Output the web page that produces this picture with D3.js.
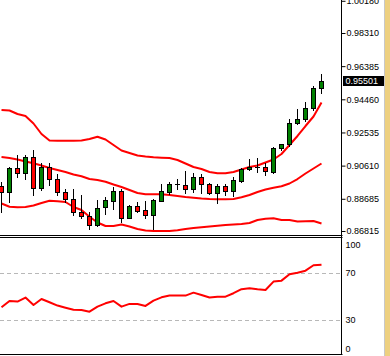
<!DOCTYPE html>
<html><head><meta charset="utf-8">
<script src="https://cdn.jsdelivr.net/npm/d3@7"></script>
<style>html,body{margin:0;padding:0;background:#fff;overflow:hidden}svg{display:block}</style>
</head><body>
<svg id="c" width="390" height="356"></svg>
<script>
const openP=[0.89444,0.89061,0.90455,0.90164,0.91093,0.89293,0.90547,0.89816,0.89061,0.88655,0.87917,0.87702,0.87162,0.88190,0.88573,0.89137,0.87586,0.88266,0.88033,0.87726,0.88573,0.89096,0.89526,0.89485,0.89235,0.89932,0.89543,0.89038,0.89410,0.89154,0.89735,0.90396,0.90547,0.90530,0.90257,0.91616,0.91848,0.93067,0.93299,0.93938,0.95099];
const highP=[0.89677,0.90530,0.91227,0.91227,0.91517,0.90779,0.90762,0.90124,0.89235,0.89235,0.88904,0.87935,0.88614,0.88806,0.89386,0.89235,0.88324,0.88515,0.88556,0.88672,0.89543,0.89642,0.89833,0.90298,0.90164,0.90106,0.89618,0.89526,0.89526,0.89967,0.90472,0.90994,0.91053,0.90745,0.91709,0.91865,0.93299,0.93897,0.94286,0.95233,0.95930];
const lowP=[0.87935,0.88515,0.89967,0.89816,0.88904,0.89195,0.89485,0.88904,0.88515,0.87743,0.87569,0.86913,0.87133,0.87784,0.88074,0.87354,0.87540,0.87935,0.87586,0.86930,0.88556,0.88945,0.89235,0.89003,0.89096,0.89038,0.88945,0.88457,0.88904,0.88846,0.89642,0.90356,0.90257,0.90065,0.90164,0.91517,0.91749,0.93027,0.93218,0.93839,0.94809];
const closeP=[0.89061,0.90455,0.90164,0.91093,0.89293,0.90547,0.89816,0.89061,0.88655,0.87900,0.87685,0.87162,0.88132,0.88614,0.89137,0.87586,0.88266,0.87993,0.87726,0.88614,0.89119,0.89543,0.89526,0.89235,0.89932,0.89526,0.89038,0.89427,0.89154,0.89775,0.90414,0.90547,0.90547,0.90298,0.91616,0.91848,0.93067,0.93299,0.93938,0.95099,0.95501];
const upperBand=[0.93839,0.93810,0.93607,0.93491,0.93056,0.92446,0.92069,0.92057,0.92057,0.92057,0.92069,0.92156,0.92289,0.92127,0.91807,0.91488,0.91343,0.91198,0.91140,0.91093,0.91070,0.91053,0.90936,0.90733,0.90530,0.90414,0.90240,0.90164,0.90164,0.90240,0.90385,0.90530,0.90617,0.90791,0.90965,0.91285,0.91807,0.92330,0.92910,0.93462,0.94275];
const middleBand=[0.91111,0.91053,0.90965,0.90849,0.90745,0.90617,0.90472,0.90356,0.90240,0.90095,0.89990,0.89833,0.89775,0.89677,0.89514,0.89369,0.89195,0.89020,0.88945,0.88945,0.88945,0.88904,0.88846,0.88788,0.88748,0.88701,0.88672,0.88655,0.88655,0.88672,0.88771,0.88904,0.89079,0.89224,0.89328,0.89409,0.89572,0.89833,0.90153,0.90443,0.90733];
const lowerBand=[0.88411,0.88225,0.88190,0.88208,0.88295,0.88440,0.88573,0.88539,0.88498,0.88208,0.88033,0.87644,0.87308,0.87104,0.87104,0.87192,0.87075,0.86930,0.86843,0.86814,0.86814,0.86814,0.86855,0.86930,0.86988,0.87029,0.87075,0.87122,0.87163,0.87192,0.87221,0.87279,0.87453,0.87528,0.87552,0.87453,0.87453,0.87366,0.87377,0.87395,0.87250];
const rsiValues=[41.0,46.4,45.9,49.3,43.0,48.1,45.3,42.5,40.7,39.0,38.8,37.3,41.6,44.4,46.4,41.6,43.9,43.9,42.2,46.7,49.5,51.0,51.0,51.0,53.5,51.5,49.3,50.1,50.1,53.0,56.4,57.2,56.4,55.8,62.9,63.7,69.1,70.5,72.2,76.8,77.3];
const priceTicks=["1.00180","0.98310","0.96385","0.94460","0.92535","0.90610","0.88685","0.86815"];
const rsiTicks=[100,70,30,0];
const rsiLevels=[70,30];
const lastPrice="0.95501";

const axisX=341.5, mainBottom=235, font='9px "Liberation Sans", Arial, sans-serif';
const svg=d3.select("#c");
const n=openP.length;
const x=d3.scalePoint().domain(d3.range(n)).range([1.5,321.5]);
const y=d3.scaleLinear().domain([0.86582,1.00226]).range([mainBottom,0]);
const yr=d3.scaleLinear().domain([0,100]).range([355.5,238]);

svg.append("defs").append("clipPath").attr("id","mainClip").append("rect").attr("x",0).attr("y",0).attr("width",axisX).attr("height",mainBottom);
const main=svg.append("g").attr("clip-path","url(#mainClip)");

// bands
const line=d3.line().x((d,i)=>x(i)).y(d=>y(d));
[upperBand,middleBand,lowerBand].forEach(b=>{
  main.append("path").attr("d",line(b)).attr("fill","none").attr("stroke","#ff0000").attr("stroke-width",2).attr("stroke-linejoin","round");
});

// candles
const idx=d3.range(n);
const snap=v=>Math.round(v)+0.5;
main.selectAll(".wick").data(idx).join("line").attr("class","wick")
  .attr("x1",i=>x(i)).attr("x2",i=>x(i))
  .attr("y1",i=>Math.round(y(highP[i]))).attr("y2",i=>Math.round(y(lowP[i]))+1)
  .attr("stroke","#000").attr("stroke-width",1);
idx.forEach(i=>{
  const o=openP[i],c=closeP[i],xc=x(i);
  if(o===c){
    main.append("line").attr("x1",xc-2.5).attr("x2",xc+2.5).attr("y1",snap(y(o))).attr("y2",snap(y(o))).attr("stroke","#000");
  } else {
    const t=snap(y(Math.max(o,c))), b=snap(y(Math.min(o,c)));
    main.append("rect").attr("x",xc-2).attr("width",4).attr("y",t).attr("height",Math.max(1,b-t))
      .attr("fill",c>o?"#008000":"#ff0000").attr("stroke","#000").attr("stroke-width",1);
  }
});

// RSI panel
rsiLevels.forEach(v=>{
  svg.append("line").attr("x1",0).attr("x2",axisX).attr("y1",snap(yr(v))).attr("y2",snap(yr(v)))
    .attr("stroke","#b8b8b8").attr("stroke-dasharray","4,3");
});
const rline=d3.line().x((d,i)=>x(i)).y(d=>yr(d));
svg.append("path").attr("d",rline(rsiValues)).attr("fill","none").attr("stroke","#ff0000").attr("stroke-width",2).attr("stroke-linejoin","round");

// borders
[235.5,237.5,354.5].forEach(yy=>svg.append("line").attr("x1",0).attr("x2",axisX+1).attr("y1",yy).attr("y2",yy).attr("stroke","#000"));
svg.append("line").attr("x1",axisX).attr("x2",axisX).attr("y1",0).attr("y2",355).attr("stroke","#000");

// price axis
const ax=svg.append("g").attr("transform",`translate(${axisX},0)`)
  .call(d3.axisRight(y).tickValues(priceTicks.map(Number)).tickFormat((d,i)=>priceTicks[i]).tickSize(4).tickPadding(1));
ax.select(".domain").remove();
ax.selectAll("line").attr("stroke","#000");
ax.selectAll("text").attr("fill","#000").style("font",font);

// current price
const ly=y(+lastPrice);
svg.append("rect").attr("x",343).attr("y",Math.round(ly)-5).attr("width",41).attr("height",10).attr("fill","#000");
svg.append("text").attr("x",345.5).attr("y",ly).attr("dy","0.34em").attr("fill","#fff").style("font",font).text(lastPrice);

// rsi labels
svg.selectAll(".rl").data(rsiTicks).join("text").attr("class","rl")
  .attr("x",345.5).attr("y",d=>Math.max(244.5,Math.min(348.5,yr(d)))).attr("dy","0.34em")
  .attr("fill","#000").style("font",font).text(d=>d);

// right strip
svg.append("rect").attr("x",385).attr("y",0).attr("width",5).attr("height",356).attr("fill","#EDD080");
svg.append("line").attr("x1",384.5).attr("x2",384.5).attr("y1",0).attr("y2",356).attr("stroke","#c8c8c8");
</script>
</body></html>
